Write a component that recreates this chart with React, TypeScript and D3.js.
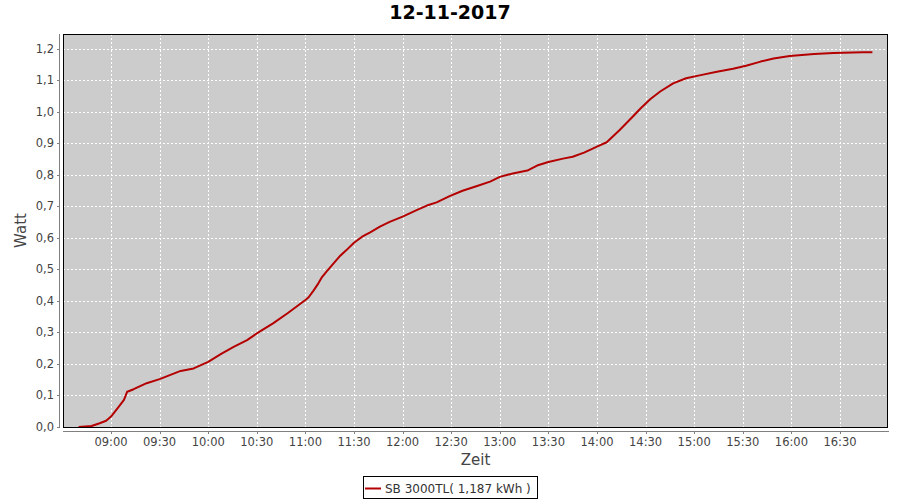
import React from "react";
import * as d3 from "d3";

const title = "12-11-2017";
const xLabel = "Zeit";
const yLabel = "Watt";
const seriesName = "SB 3000TL( 1,187 kWh )";

const times = [
  "08:40", "08:48", "08:53", "08:57", "09:00", "09:04", "09:08", "09:10", "09:14", "09:22",
  "09:30", "09:43", "09:51", "10:00", "10:08", "10:16", "10:24", "10:30", "10:40", "10:49",
  "10:55", "11:00", "11:02", "11:05", "11:08", "11:10", "11:13", "11:17", "11:21", "11:25",
  "11:30", "11:35", "11:40", "11:46", "11:52", "12:00", "12:09", "12:15", "12:21", "12:29",
  "12:37", "12:46", "12:54", "13:00", "13:08", "13:17", "13:23", "13:30", "13:39", "13:45",
  "13:52", "14:00", "14:06", "14:14", "14:22", "14:27", "14:33", "14:39", "14:47", "14:55",
  "15:04", "15:14", "15:24", "15:32", "15:41", "15:49", "15:59", "16:14", "16:26", "16:44",
  "16:50",
];
const values = [
  0.0, 0.003, 0.012, 0.02, 0.033, 0.059, 0.086, 0.112, 0.12, 0.139,
  0.152, 0.178, 0.186, 0.207, 0.232, 0.255, 0.276, 0.297, 0.329, 0.361,
  0.384, 0.403, 0.412, 0.433, 0.456, 0.474, 0.493, 0.517, 0.541, 0.56,
  0.585, 0.604, 0.618, 0.636, 0.651, 0.668, 0.689, 0.703, 0.713, 0.733,
  0.75, 0.765, 0.779, 0.794, 0.805, 0.814, 0.83, 0.841, 0.852, 0.858,
  0.871, 0.89, 0.904, 0.943, 0.985, 1.012, 1.041, 1.065, 1.091, 1.107,
  1.117, 1.128, 1.137, 1.147, 1.16, 1.17, 1.178, 1.184, 1.187, 1.19,
  1.19,
];
const yTicks = [0, 0.1, 0.2, 0.3, 0.4, 0.5, 0.6, 0.7, 0.8, 0.9, 1.0, 1.1, 1.2];
const xTickLabels = [
  "09:00", "09:30", "10:00", "10:30", "11:00", "11:30", "12:00", "12:30",
  "13:00", "13:30", "14:00", "14:30", "15:00", "15:30", "16:00", "16:30",
];

const W = 900;
const H = 500;
const plot = { left: 63, top: 34, right: 888, bottom: 427 };
const FONT = "'DejaVu Sans', sans-serif";

export default function App() {
  const parse = d3.timeParse("%H:%M");
  const fmt = d3.timeFormat("%H:%M");
  const x = d3
    .scaleTime()
    .domain([new Date(1900, 0, 1, 8, 30, 22), new Date(1900, 0, 1, 16, 59, 38)])
    .range([plot.left, plot.right]);
  const y = d3.scaleLinear().domain([0, 1.2476]).range([plot.bottom, plot.top]);

  const data = times.map((t, i) => ({ t: parse(t) as Date, v: values[i] }));
  const line = d3
    .line<{ t: Date; v: number }>()
    .x((d) => x(d.t))
    .y((d) => y(d.v));

  const xTicks = xTickLabels.map((s) => parse(s) as Date);
  const yFmt = (v: number) => d3.format(".1f")(v).replace(".", ",");

  const axisColor = "#808080";
  const textColor = "#444444";

  return (
    <div style={{ position: "absolute", left: 0, top: 0 }}>
      <svg width={W} height={H} style={{ display: "block" }}>
        <rect x={0} y={0} width={W} height={H} fill="#ffffff" />
        <text
          x={W / 2}
          y={19}
          textAnchor="middle"
          fontFamily={FONT}
          fontWeight="bold"
          fontSize={19}
          fill="#000"
        >
          {title}
        </text>
        <rect
          x={plot.left}
          y={plot.top}
          width={plot.right - plot.left}
          height={plot.bottom - plot.top}
          fill="#cccccc"
        />
        {xTicks.map((t, i) => (
          <line
            key={"gx" + i}
            x1={Math.round(x(t)) + 0.5}
            x2={Math.round(x(t)) + 0.5}
            y1={plot.top}
            y2={plot.bottom}
            stroke="#ffffff"
            strokeWidth={1}
            strokeDasharray="2,2"
          />
        ))}
        {yTicks.map((v, i) => (
          <line
            key={"gy" + i}
            x1={plot.left}
            x2={plot.right}
            y1={Math.round(y(v)) + 0.5}
            y2={Math.round(y(v)) + 0.5}
            stroke="#ffffff"
            strokeWidth={1}
            strokeDasharray="2,2"
          />
        ))}
        <path
          d={line(data) || ""}
          fill="none"
          stroke="#b40000"
          strokeWidth={2}
          strokeLinejoin="round"
        />
        <rect
          x={plot.left + 0.5}
          y={plot.top + 0.5}
          width={plot.right - plot.left - 1}
          height={plot.bottom - plot.top}
          fill="none"
          stroke="#000"
          strokeWidth={1}
        />
        {/* Y axis */}
        <line
          x1={59.5}
          x2={59.5}
          y1={plot.top}
          y2={plot.bottom + 1}
          stroke={axisColor}
        />
        {yTicks.map((v, i) => (
          <g key={"ty" + i}>
            <line
              x1={57}
              x2={59}
              y1={Math.round(y(v)) + 0.5}
              y2={Math.round(y(v)) + 0.5}
              stroke={axisColor}
            />
            <text
              x={54}
              y={y(v) + 4}
              textAnchor="end"
              fontFamily={FONT}
              fontSize={11.5}
              fill={textColor}
            >
              {yFmt(v)}
            </text>
          </g>
        ))}
        {/* X axis */}
        <line
          x1={plot.left}
          x2={plot.right + 1}
          y1={431.5}
          y2={431.5}
          stroke={axisColor}
        />
        {xTicks.map((t, i) => (
          <g key={"tx" + i}>
            <line
              x1={Math.round(x(t)) + 0.5}
              x2={Math.round(x(t)) + 0.5}
              y1={432}
              y2={434}
              stroke={axisColor}
            />
            <text
              x={x(t)}
              y={446}
              textAnchor="middle"
              fontFamily={FONT}
              fontSize={11.5}
              fill={textColor}
            >
              {fmt(t)}
            </text>
          </g>
        ))}
        <text
          x={(plot.left + plot.right) / 2}
          y={465}
          textAnchor="middle"
          fontFamily={FONT}
          fontSize={15}
          fill={textColor}
        >
          {xLabel}
        </text>
        <text
          transform={`translate(26, ${(plot.top + plot.bottom) / 2}) rotate(-90)`}
          textAnchor="middle"
          fontFamily={FONT}
          fontSize={15}
          fill={textColor}
        >
          {yLabel}
        </text>
        {/* Legend */}
        <rect x={363.5} y={476.5} width={174} height={22} fill="#fff" stroke="#000" />
        <line x1={365} x2={381} y1={488.5} y2={488.5} stroke="#b40000" strokeWidth={2} />
        <text x={385} y={492.5} fontFamily={FONT} fontSize={12} fill="#333">
          {seriesName}
        </text>
      </svg>
    </div>
  );
}
